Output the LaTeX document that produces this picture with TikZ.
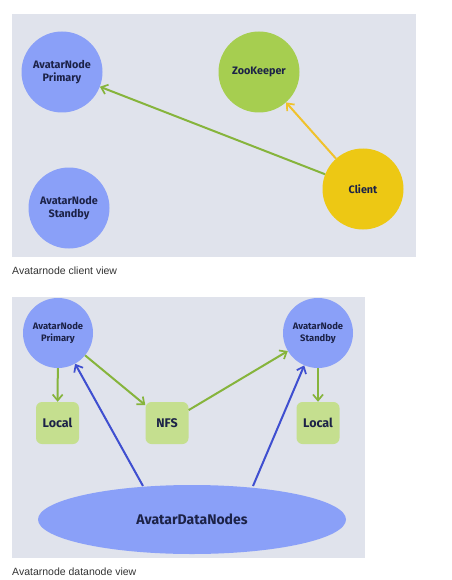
\documentclass[tikz,border=0pt]{standalone}
\usepackage{fontspec}
\setmainfont{Fira Sans}
\newfontfamily\capfont{Liberation Sans}
\usetikzlibrary{arrows.meta,shapes.geometric}
\definecolor{bgpanel}{HTML}{E0E3EC}
\definecolor{nodeblue}{HTML}{8AA0F8}
\definecolor{nodegreen}{HTML}{A6CE50}
\definecolor{nodeyellow}{HTML}{EDC814}
\definecolor{boxgreen}{HTML}{C5DF8F}
\definecolor{txtnavy}{HTML}{1C2247}
\definecolor{arrgreen}{HTML}{86B43C}
\definecolor{arryellow}{HTML}{F0C22C}
\definecolor{arrblue}{HTML}{3F4FD0}
\definecolor{captxt}{HTML}{333333}
\tikzset{
  circnode/.style={circle,minimum size=#1,inner sep=0pt,align=center,text=txtnavy,font=\bfseries},
  boxnode/.style={rounded corners=6pt,fill=boxgreen,minimum width=43pt,minimum height=42pt,inner sep=0pt,text=txtnavy,font=\bfseries\fontsize{12.5}{14}\selectfont},
  conn/.style={line width=2pt,-{Straight Barb[length=6pt,width=10pt,line width=1.7pt]}},
  caption/.style={anchor=west,inner sep=0pt,text=captxt,font=\capfont\fontsize{10.5}{12}\selectfont}
}
\begin{document}
\begin{tikzpicture}[x=1pt,y=-1pt]
\useasboundingbox (0,0) rectangle (451,580);
% top panel
\fill[bgpanel] (12,14) rectangle (416,257);
\node[circnode=81pt,fill=nodeblue,font=\bfseries\fontsize{10.8}{13}\selectfont] (p1) at (62,72) {AvatarNode\\Primary};
\node[circnode=81pt,fill=nodegreen,font=\bfseries\fontsize{10.8}{13}\selectfont] (zk) at (259,72) {ZooKeeper};
\node[circnode=81pt,fill=nodeyellow,font=\bfseries\fontsize{10.8}{13}\selectfont] (cl) at (363,189) {Client};
\node[circnode=81pt,fill=nodeblue,font=\bfseries\fontsize{10.8}{13}\selectfont] (s1) at (69,208) {AvatarNode\\Standby};
\draw[conn,arrgreen] (cl) -- (p1);
\draw[conn,arryellow] (cl) -- (zk);
\node[caption] (c1) at (12,271) {Avatarnode client view};
% bottom panel
\fill[bgpanel] (12,297) rectangle (365,558);
\node[circnode=70pt,fill=nodeblue,font=\bfseries\fontsize{9.4}{11.5}\selectfont] (p2) at (58,333) {AvatarNode\\Primary};
\node[circnode=70pt,fill=nodeblue,font=\bfseries\fontsize{9.4}{11.5}\selectfont] (s2) at (318,333) {AvatarNode\\Standby};
\node[boxnode] (l1) at (57.5,423) {Local};
\node[boxnode] (nfs) at (167,423) {NFS};
\node[boxnode] (l2) at (318,423) {Local};
\node[ellipse,fill=nodeblue,minimum width=308pt,minimum height=69pt,inner sep=0pt,text=txtnavy,font=\bfseries\fontsize{14}{16}\selectfont] (dn) at (192,519.5) {AvatarDataNodes};
\draw[conn,arrgreen] (p2) -- (l1);
\draw[conn,arrgreen] (p2) -- (nfs);
\draw[conn,arrgreen] (nfs) -- (s2);
\draw[conn,arrgreen] (s2) -- (l2);
\coordinate (d1) at (143,486);
\coordinate (d2) at (253,486);
\draw[conn,arrblue] (d1) -- (p2);
\draw[conn,arrblue] (d2) -- (s2);
\node[caption] (c2) at (12,572) {Avatarnode datanode view};
\end{tikzpicture}
\end{document}
